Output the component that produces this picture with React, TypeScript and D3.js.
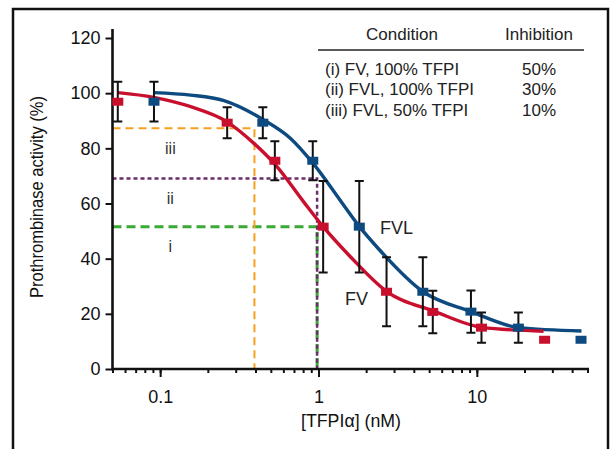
import { useEffect, useRef } from 'react';
import {
  select,
  scaleLog,
  scaleLinear,
  axisLeft,
  axisBottom,
  line,
  curveMonotoneX,
} from 'd3';

// measured prothrombinase activity (mean, sd) vs [TFPIa] in nM
const fvConc = [0.054, 0.265, 0.53, 1.07, 2.69, 5.27, 10.7, 26.8];
const fvActivity = [96.9, 89.3, 75.5, 51.6, 28.0, 20.7, 15.0, 10.6];
const fvlConc = [0.0914, 0.445, 0.92, 1.81, 4.56, 9.18, 18.3, 45.5];
const fvlActivity = [96.9, 89.3, 75.5, 51.6, 28.0, 20.8, 15.0, 10.6];
const activitySd = [7.2, 5.6, 7.1, 16.6, 12.5, 7.7, 5.5, 0];

// fitted curves
const fvFitConc = [0.054, 0.091, 0.156, 0.263, 0.391, 0.535, 0.808, 1.07, 1.59, 2.71, 5.34, 10.8, 26.4];
const fvFitActivity = [100.2, 98.5, 95.1, 89.7, 81.8, 74.0, 60.5, 51.6, 40.7, 28.0, 21.0, 15.1, 13.7];
const fvlFitConc = [0.0914, 0.156, 0.253, 0.445, 0.666, 0.917, 1.377, 1.814, 2.4, 4.58, 9.19, 18.4, 45.8];
const fvlFitActivity = [100.2, 99.3, 97.3, 90.5, 83.6, 74.8, 61.0, 51.6, 43.5, 28.0, 20.8, 15.0, 13.8];

// inhibition guide lines (i, ii, iii)
const guideLabels = ['i', 'ii', 'iii'];
const guideLevels = [51.6, 69.1, 87.3];
const guideConc = [0.98, 0.98, 0.394];
const guideColors = ['#3aa935', '#6b2d6b', '#f5a020'];
const guideDash = ['9,5', '4,3', '8,5'];
const guideWidth = [3, 2.5, 2];

const yTicks = [0, 20, 40, 60, 80, 100, 120];
const xMajorTicks = [0.1, 1, 10];
const xMajorLabels = ['0.1', '1', '10'];

const conditions = ['(i) FV, 100% TFPI', '(ii) FVL, 100% TFPI', '(iii) FVL, 50% TFPI'];
const inhibitions = ['50%', '30%', '10%'];

const RED = '#c8102e';
const BLUE = '#0d4a80';
const FONT = "'Liberation Sans', Arial, sans-serif";

const App = () => {
  const svgRef = useRef(null);

  useEffect(() => {
    const svg = select(svgRef.current);
    svg.selectAll('*').remove();

    const x = scaleLog().domain([0.05, 50]).range([112.5, 587.5]);
    const y = scaleLinear().domain([0, 120]).range([369, 38]);

    // outer frame
    svg
      .append('rect')
      .attr('x', 13)
      .attr('y', 9)
      .attr('width', 595)
      .attr('height', 470)
      .attr('fill', 'none')
      .attr('stroke', '#111')
      .attr('stroke-width', 2.5);

    // guide lines
    guideLevels.forEach((lvl, i) => {
      const g = svg.append('g');
      g.append('path')
        .attr('d', `M${x(0.05)},${y(lvl)}H${x(guideConc[i])}V${y(0)}`)
        .attr('fill', 'none')
        .attr('stroke', guideColors[i])
        .attr('stroke-width', guideWidth[i])
        .attr('stroke-dasharray', guideDash[i]);
      g.append('text')
        .attr('x', x(0.116))
        .attr('y', y(lvl) + 20)
        .attr('dy', '0.35em')
        .attr('text-anchor', 'middle')
        .attr('font-family', FONT)
        .attr('font-size', 16)
        .attr('fill', '#333')
        .text(guideLabels[i]);
    });

    // axes
    const yAxis = svg
      .append('g')
      .attr('transform', `translate(${x(0.05)},0)`)
      .call(axisLeft(y).tickValues(yTicks).tickSize(7).tickSizeOuter(0).tickPadding(5));
    const xMinor = svg
      .append('g')
      .attr('transform', `translate(0,${y(0)})`)
      .call(axisBottom(x).tickValues(x.ticks()).tickSize(4).tickSizeOuter(0).tickFormat(() => ''));
    const xMajor = svg
      .append('g')
      .attr('transform', `translate(0,${y(0)})`)
      .call(
        axisBottom(x)
          .tickValues(xMajorTicks)
          .tickSize(8)
          .tickSizeOuter(0)
          .tickPadding(13)
          .tickFormat((d, i) => xMajorLabels[i])
      );
    [yAxis, xMinor, xMajor].forEach((a) => {
      a.select('.domain').remove();
      a.selectAll('line').attr('stroke', '#111').attr('stroke-width', 2);
      a.selectAll('text').attr('font-family', FONT).attr('font-size', 18).attr('fill', '#111');
    });
    svg
      .append('path')
      .attr('d', `M${x(0.05)},29V${y(0)}H589`)
      .attr('fill', 'none')
      .attr('stroke', '#111')
      .attr('stroke-width', 2.6);

    // fitted curves
    const fit = line().x((d) => x(d[0])).y((d) => y(d[1])).curve(curveMonotoneX);
    [
      [fvlFitConc, fvlFitActivity, BLUE],
      [fvFitConc, fvFitActivity, RED],
    ].forEach(([cs, vs, color]) => {
      svg
        .append('path')
        .attr('d', fit(cs.map((c, i) => [c, vs[i]])))
        .attr('fill', 'none')
        .attr('stroke', color)
        .attr('stroke-width', 3.4);
    });

    // error bars and points
    [
      [fvConc, fvActivity, RED],
      [fvlConc, fvlActivity, BLUE],
    ].forEach(([cs, vs, color]) => {
      const g = svg.append('g');
      cs.forEach((c, i) => {
        const sd = activitySd[i];
        if (!sd) return;
        const cx = x(c);
        g.append('path')
          .attr(
            'd',
            `M${cx},${y(vs[i] - sd)}V${y(vs[i] + sd)}M${cx - 4.5},${y(vs[i] + sd)}H${cx + 4.5}M${cx - 4.5},${y(vs[i] - sd)}H${cx + 4.5}`
          )
          .attr('fill', 'none')
          .attr('stroke', '#111')
          .attr('stroke-width', 2);
      });
      g.selectAll('rect')
        .data(cs)
        .enter()
        .append('rect')
        .attr('x', (d) => x(d) - 5.5)
        .attr('y', (d, i) => y(vs[i]) - 4)
        .attr('width', 11)
        .attr('height', 8)
        .attr('fill', color);
    });

    // series labels
    svg
      .append('text')
      .attr('x', 380)
      .attr('y', 228)
      .attr('dy', '0.35em')
      .attr('font-family', FONT)
      .attr('font-size', 18)
      .attr('fill', '#222')
      .text('FVL');
    svg
      .append('text')
      .attr('x', 345)
      .attr('y', 299)
      .attr('dy', '0.35em')
      .attr('font-family', FONT)
      .attr('font-size', 18)
      .attr('fill', '#222')
      .text('FV');

    // axis titles
    svg
      .append('text')
      .attr('transform', 'translate(37,197) rotate(-90)')
      .attr('dy', '0.35em')
      .attr('text-anchor', 'middle')
      .attr('font-family', FONT)
      .attr('font-size', 18)
      .attr('fill', '#111')
      .attr('textLength', 202)
      .attr('lengthAdjust', 'spacingAndGlyphs')
      .text('Prothrombinase activity (%)');
    svg
      .append('text')
      .attr('x', 351)
      .attr('y', 420)
      .attr('dy', '0.35em')
      .attr('text-anchor', 'middle')
      .attr('font-family', FONT)
      .attr('font-size', 19)
      .attr('fill', '#111')
      .attr('textLength', 100)
      .attr('lengthAdjust', 'spacingAndGlyphs')
      .text('[TFPIα] (nM)');

    // table legend
    const table = svg.append('g').attr('font-family', FONT).attr('font-size', 17).attr('fill', '#222');
    table.append('text').attr('x', 402).attr('y', 34).attr('dy', '0.35em').attr('text-anchor', 'middle').text('Condition');
    table.append('text').attr('x', 539).attr('y', 34).attr('dy', '0.35em').attr('text-anchor', 'middle').text('Inhibition');
    table
      .append('line')
      .attr('x1', 318)
      .attr('x2', 584)
      .attr('y1', 50)
      .attr('y2', 50)
      .attr('stroke', '#222')
      .attr('stroke-width', 1.5);
    conditions.forEach((c, i) => {
      table.append('text').attr('x', 325).attr('y', 69 + i * 20.5).attr('dy', '0.35em').text(c);
      table
        .append('text')
        .attr('x', 539)
        .attr('y', 69 + i * 20.5)
        .attr('dy', '0.35em')
        .attr('text-anchor', 'middle')
        .text(inhibitions[i]);
    });
  }, []);

  return (
    <svg
      ref={svgRef}
      width={612}
      height={449}
      style={{ position: 'absolute', left: 0, top: 0, background: '#fff' }}
    />
  );
};

export default App;
